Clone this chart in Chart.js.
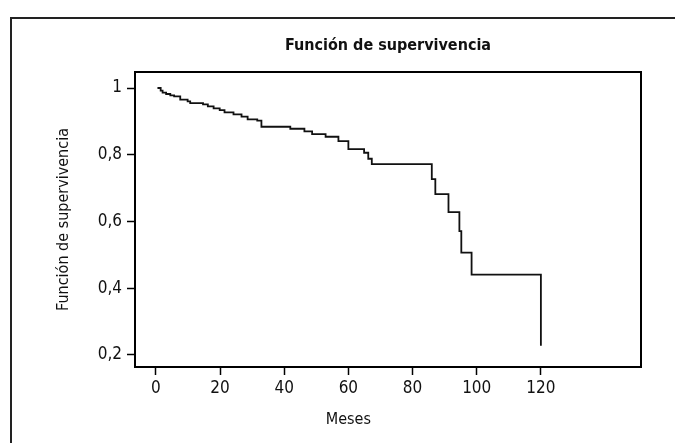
<!DOCTYPE html>
<html>
<head>
<meta charset="utf-8">
<script src="https://cdn.jsdelivr.net/npm/chart.js@4"></script>
<style>
    body { margin: 0; background: #fff; }
    canvas { display: block; }
</style>
</head>
<body>
<canvas id="survival-chart" width="675" height="443"></canvas>
<script>
const months = [0.5, 1.5, 2.1, 3.2, 4.5, 5.7, 7.6, 9.9, 10.7, 14.7, 16.2, 18.0, 19.9, 21.4, 24.2, 26.7,
    28.6, 31.6, 32.9, 41.9, 46.3, 48.7, 52.9, 56.9, 60.0, 64.9, 66.2, 67.3, 86.0, 87.1, 91.2, 94.6,
    95.2, 98.4, 120];
const survival = [1, 0.992, 0.986, 0.982, 0.978, 0.975, 0.965, 0.960, 0.955, 0.951, 0.945, 0.939, 0.934, 0.927, 0.921, 0.914,
    0.906, 0.902, 0.884, 0.878, 0.870, 0.862, 0.854, 0.841, 0.817, 0.806, 0.788, 0.772, 0.727, 0.682, 0.628, 0.571,
    0.507, 0.441, 0.228];
const xTicks = [0, 20, 40, 60, 80, 100, 120];
const yTicks = [0.2, 0.4, 0.6, 0.8, 1];

const chartTitle = 'Función de supervivencia';
const xTitle = 'Meses';
const yTitle = 'Función de supervivencia';

const FONT = "'Liberation Sans Narrow', 'DejaVu Sans Condensed', 'Arial Narrow', sans-serif";

// marco exterior, caja del gráfico y títulos
const decorPlugin = {
    id: 'decor',
    afterDraw(chart) {
        const ctx = chart.ctx;
        const a = chart.chartArea;
        ctx.save();
        ctx.strokeStyle = '#222';
        ctx.lineWidth = 2;
        // marco exterior (solo izquierda y arriba visibles)
        ctx.beginPath();
        ctx.moveTo(11, chart.height);
        ctx.lineTo(11, 18);
        ctx.lineTo(chart.width, 18);
        ctx.stroke();
        // caja
        ctx.strokeStyle = '#000';
        ctx.strokeRect(a.left, a.top, a.right - a.left, a.bottom - a.top);

        ctx.fillStyle = '#111';
        ctx.textAlign = 'center';
        ctx.textBaseline = 'middle';
        ctx.font = 'bold 16px ' + FONT;
        ctx.fillText(chartTitle, (a.left + a.right) / 2, 46);

        ctx.font = '16px ' + FONT;
        const xs = chart.scales.x;
        ctx.fillText(xTitle, xs.getPixelForValue(60), 420);

        ctx.translate(64, (a.top + a.bottom) / 2);
        ctx.rotate(-Math.PI / 2);
        ctx.fillText(yTitle, 0, 0);
        ctx.restore();
    }
};

new Chart(document.getElementById('survival-chart'), {
    type: 'line',
    data: {
        datasets: [{
            data: months.map((m, i) => ({ x: m, y: survival[i] })),
            stepped: 'before',
            borderColor: '#111',
            borderWidth: 1.8,
            pointRadius: 0,
            fill: false
        }]
    },
    options: {
        responsive: false,
        animation: false,
        layout: { padding: { top: 72, right: 34, left: 0, bottom: 0 } },
        plugins: {
            legend: { display: false },
            tooltip: { enabled: false }
        },
        scales: {
            x: {
                type: 'linear',
                min: -6.5,
                max: 151.2,
                afterBuildTicks: s => { s.ticks = xTicks.map(v => ({ value: v })); },
                afterFit: s => { s.height = 76; },
                border: { display: true, color: '#000', width: 2 },
                grid: { drawOnChartArea: false, drawTicks: true, tickLength: 8, tickColor: '#000', tickWidth: 1.5 },
                ticks: { color: '#111', padding: 3, font: { family: FONT, size: 17 } }
            },
            y: {
                type: 'linear',
                min: 0.164,
                max: 1.048,
                afterBuildTicks: s => { s.ticks = yTicks.map(v => ({ value: v })); },
                afterFit: s => { s.width = 135; },
                border: { display: true, color: '#000', width: 2 },
                grid: { drawOnChartArea: false, drawTicks: true, tickLength: 8, tickColor: '#000', tickWidth: 1.5 },
                ticks: {
                    color: '#111',
                    padding: 5,
                    font: { family: FONT, size: 17 },
                    callback: v => v === 1 ? '1' : v.toFixed(1).replace('.', ',')
                }
            }
        }
    },
    plugins: [decorPlugin]
});
</script>
</body>
</html>
